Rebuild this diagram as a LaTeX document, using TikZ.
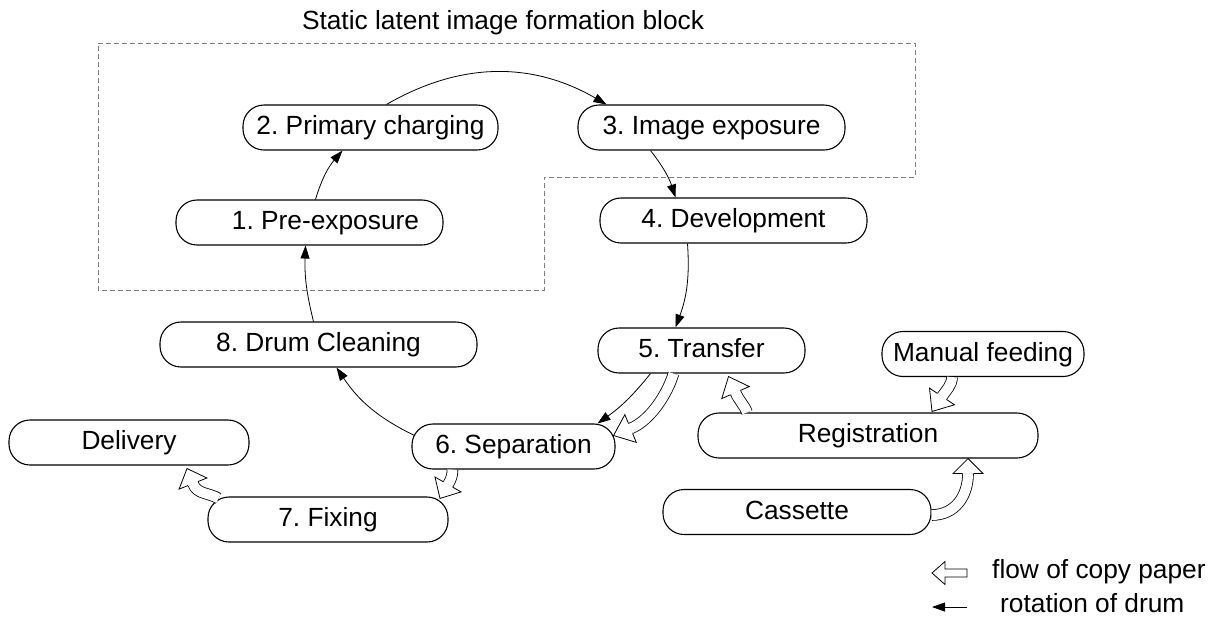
\documentclass[tikz,border=0pt]{standalone}
\usepackage{fontspec}
\setmainfont{Liberation Sans}
\usetikzlibrary{arrows.meta,calc}
\frenchspacing

\tikzset{
  stage/.style={draw, line width=1.1pt, rounded corners=21pt, minimum height=45pt,
    inner sep=0pt, text height=19pt, text depth=5pt},
  plain text/.style={inner sep=0pt, text height=19pt, text depth=5pt},
  drum/.style={-{Triangle[length=13pt,width=9pt]}, line width=0.8pt},
  flow shaft/.style={double=white, double distance=10pt, line width=0.8pt},
  flow head/.style={draw, fill=white, line width=0.8pt},
  block/.style={gray, dash pattern=on 5pt off 3pt, line width=0.9pt}
}

\newcommand{\paperflow}[3]{%
  \draw[flow shaft] #1;
  \filldraw[flow head] ($(#2)!5.4pt!90:(#3)$) -- ($(#2)!15pt!90:(#3)$) -- (#3)
    -- ($(#2)!15pt!-90:(#3)$) -- ($(#2)!5.4pt!-90:(#3)$);
}

\begin{document}
\begin{tikzpicture}[x=1pt, y=-1pt, font=\fontsize{26.3pt}{31pt}\selectfont]
\useasboundingbox (0,0) rectangle (1223,619);

\draw[block] (98,43) -- (915,43) -- (915,177) -- (544,177) -- (544,290) -- (98,290) -- cycle;
\node[plain text] (blocktitle) at (503,22) {Static latent image formation block};

\node[stage, minimum width=255pt] (prim) at (370.5,127.5) {2. Primary charging};
\node[stage, minimum width=267pt] (imgexp) at (711.5,127.5) {3. Image exposure};
\node[stage, minimum width=267pt] (preexp) at (309.5,222.5) {\hspace*{32pt}1. Pre-exposure};
\node[stage, minimum width=267pt] (devel) at (733.5,220.5) {4. Development};
\node[stage, minimum width=317pt] (clean) at (318.5,344.5) {8. Drum Cleaning};
\node[stage, minimum width=207pt] (transfer) at (701.5,350.5) {5. Transfer};
\node[stage, minimum width=202pt] (manual) at (983,354) {Manual feeding};
\node[stage, minimum width=240pt] (delivery) at (129,442.5) {Delivery};
\node[stage, minimum width=203pt] (separation) at (513.5,446.5) {6. Separation};
\node[stage, minimum width=340pt] (registration) at (868,435.5) {Registration};
\node[stage, minimum width=240pt] (fixing) at (328,519.5) {7. Fixing};
\node[stage, minimum width=268pt] (cassette) at (797,512) {Cassette};

\draw[drum] ($(preexp.north)+(6,0)$) to[bend left=12] ($(prim.south)+(-28,0)$);
\draw[drum] ($(prim.north)+(16,0)$) to[bend left=30] ($(imgexp.north)+(-105,0)$);
\draw[drum] ($(imgexp.south)+(-61,0)$) to[bend left=10] ($(devel.north)+(-58,0)$);
\draw[drum] ($(devel.south)+(-46,0)$) to[bend left=12] ($(transfer.north)+(-26,0)$);
\draw[drum] ($(transfer.south)+(-51,0)$) to[bend left=8] ($(separation.north)+(84,0)$);
\draw[drum] ($(separation.west)+(3,-11)$) to[bend left=15] ($(clean.south)+(18,0)$);
\draw[drum] ($(clean.north)+(-5,0)$) to[bend left=8] ($(preexp.south)+(-4,0)$);

\coordinate (septip) at ($(separation.east)+(-2,-11)$);
\coordinate (sepbase) at ($(septip)+(17,-7)$);
\paperflow{($(transfer.south)+(-28,0)$) .. controls +(-6,20) and ($(sepbase)+(20,-8)$) .. (sepbase)}{sepbase}{septip}

\coordinate (fixtip) at ($(fixing.north)+(112,2)$);
\coordinate (fixbase) at ($(fixtip)+(8,-14)$);
\paperflow{($(separation.south)+(-61,0)$) .. controls +(0,6) and ($(fixbase)+(3,-5)$) .. (fixbase)}{fixbase}{fixtip}

\coordinate (delitip) at ($(delivery.south)+(58,3)$);
\coordinate (delibase) at ($(delitip)+(6,15)$);
\paperflow{($(fixing.north west)+(11,2)$) .. controls +(-10,-6) and ($(delibase)+(4,11)$) .. (delibase)}{delibase}{delitip}

\coordinate (trantip) at ($(transfer.south)+(27,3)$);
\coordinate (tranbase) at ($(trantip)+(7,16)$);
\paperflow{($(registration.north)+(-121,0)$) .. controls +(-3,-8) and ($(tranbase)+(4,9)$) .. (tranbase)}{tranbase}{trantip}

\coordinate (mantip) at ($(registration.north)+(64,-1)$);
\coordinate (manbase) at ($(mantip)+(10,-15)$);
\paperflow{($(manual.south)+(-31,0)$) .. controls +(0,8) and ($(manbase)+(4,-6)$) .. (manbase)}{manbase}{mantip}

\coordinate (castip) at ($(registration.south)+(100,0)$);
\coordinate (casbase) at ($(castip)+(0,15)$);
\paperflow{($(cassette.east)+(0,3)$) .. controls +(24,0) and ($(casbase)+(0,22)$) .. (casbase)}{casbase}{castip}

\node[plain text, anchor=base west] (keyflow) at (992,578) {flow of copy paper};
\node[plain text, anchor=base west] (keydrum) at (1000,612) {rotation of drum};
\draw[flow head] ($(keyflow.base west)+(-60,-5)$) -- ++(13,-11.5) -- ++(0,7.5) -- ++(22,0)
  -- ++(0,8) -- ++(-22,0) -- ++(0,7.5) -- cycle;
\draw[drum] ($(keydrum.base west)+(-33,-5)$) -- ++(-35,0);
\end{tikzpicture}
\end{document}
